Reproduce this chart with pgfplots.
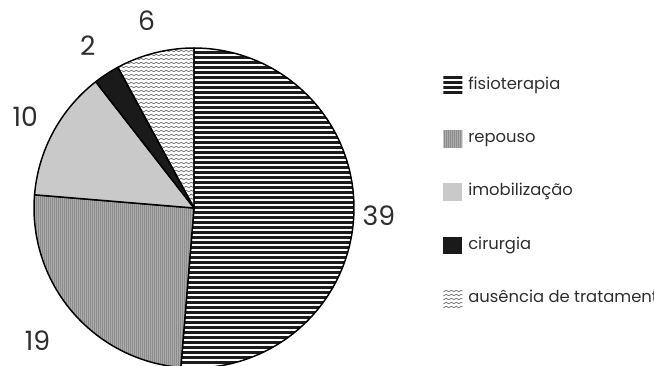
\documentclass[border=0pt]{standalone}
\usepackage{pgfplots}
\pgfplotsset{compat=1.18}
\usepackage{pgfplotstable}
\usepackage{fontspec}
\setmainfont{Poppins}
\usetikzlibrary{patterns}

\definecolor{inkgray}{HTML}{2E2E2E}
\definecolor{txtgray}{HTML}{2E2E2E}
\definecolor{linegray}{HTML}{1C1C1C}
\definecolor{repfill}{HTML}{ABABAB}
\definecolor{repline}{HTML}{7E7E7E}
\definecolor{imofill}{HTML}{C9C9C9}
\definecolor{cirfill}{HTML}{1A1A1A}
\definecolor{wavegray}{HTML}{7A7A7A}

% dense horizontal stripes
\pgfdeclarepatternformonly{fisiolines}{\pgfpoint{-0.1pt}{0pt}}{\pgfpoint{4.1pt}{3.75pt}}{\pgfpoint{4pt}{3.75pt}}{%
  \pgfsetlinewidth{1.8pt}%
  \pgfpathmoveto{\pgfpoint{-0.1pt}{1.875pt}}%
  \pgfpathlineto{\pgfpoint{4.1pt}{1.875pt}}%
  \pgfusepath{stroke}}
% fine vertical hatching on a grey ground
\pgfdeclarepatterninherentlycolored{repousotex}{\pgfpointorigin}{\pgfpoint{1.5pt}{1pt}}{\pgfpoint{1.5pt}{1pt}}{%
  \pgfsetfillcolor{repfill}%
  \pgfpathrectangle{\pgfpointorigin}{\pgfpoint{1.5pt}{1pt}}%
  \pgfusepath{fill}%
  \pgfsetstrokecolor{repline}%
  \pgfsetlinewidth{0.6pt}%
  \pgfpathmoveto{\pgfpoint{0.75pt}{0pt}}%
  \pgfpathlineto{\pgfpoint{0.75pt}{1pt}}%
  \pgfusepath{stroke}}
% small waves
\pgfdeclarepatternformonly{wavy}{\pgfpoint{-0.5pt}{-0.5pt}}{\pgfpoint{4.25pt}{3.5pt}}{\pgfpoint{3.75pt}{3pt}}{%
  \pgfsetlinewidth{0.55pt}%
  \pgfpathmoveto{\pgfpoint{0pt}{1.5pt}}%
  \pgfpathcurveto{\pgfpoint{0.6pt}{2.3pt}}{\pgfpoint{1.275pt}{2.3pt}}{\pgfpoint{1.875pt}{1.5pt}}%
  \pgfpathcurveto{\pgfpoint{2.475pt}{0.7pt}}{\pgfpoint{3.15pt}{0.7pt}}{\pgfpoint{3.75pt}{1.5pt}}%
  \pgfusepath{stroke}}

% number of cases per treatment; lr = radial distance of the value label
\pgfplotstableread{
value lr
39 185
19 205
10 192
2  194
6  193
}\piedata

\begin{document}
\begin{tikzpicture}
% slice values
\pgfplotstablegetelem{0}{value}\of\piedata \let\vA\pgfplotsretval
\pgfplotstablegetelem{1}{value}\of\piedata \let\vB\pgfplotsretval
\pgfplotstablegetelem{2}{value}\of\piedata \let\vC\pgfplotsretval
\pgfplotstablegetelem{3}{value}\of\piedata \let\vD\pgfplotsretval
\pgfplotstablegetelem{4}{value}\of\piedata \let\vE\pgfplotsretval
\pgfplotstablegetelem{0}{lr}\of\piedata \let\rA\pgfplotsretval
\pgfplotstablegetelem{1}{lr}\of\piedata \let\rB\pgfplotsretval
\pgfplotstablegetelem{2}{lr}\of\piedata \let\rC\pgfplotsretval
\pgfplotstablegetelem{3}{lr}\of\piedata \let\rD\pgfplotsretval
\pgfplotstablegetelem{4}{lr}\of\piedata \let\rE\pgfplotsretval
\pgfmathsetmacro\total{\vA+\vB+\vC+\vD+\vE}
% slice boundaries, clockwise from twelve o'clock
\pgfmathsetmacro\aO{90}
\pgfmathsetmacro\aA{\aO-360*\vA/\total}
\pgfmathsetmacro\aB{\aA-360*\vB/\total}
\pgfmathsetmacro\aC{\aB-360*\vC/\total}
\pgfmathsetmacro\aD{\aC-360*\vD/\total}
\pgfmathsetmacro\aE{\aD-360*\vE/\total}
% centre and radius of the pie
\def\cx{194}\def\cy{157}\def\R{160}
\begin{axis}[
  name=ax,
  scale only axis, width=490.5pt, height=273.75pt,
  xmin=0, xmax=654, ymin=0, ymax=365,
  hide axis, clip=true,
  every axis plot/.append style={draw=black, line width=1.1pt, line join=round},
  legend image code/.code={\fill[#1,draw=none] (0pt,-6.4pt) rectangle (14.25pt,6.4pt);},
  legend style={at={(axis cs:443,288.5)}, anchor=north west, draw=none, fill=none,
    inner sep=0pt, row sep=27.2pt, column sep=4.5pt,
    font=\fontsize{12.3}{14}\selectfont, text=txtgray,
    nodes={inner sep=0pt, text height=9pt, text depth=3pt}},
  legend cell align=left,
]
\addplot[pattern=fisiolines, pattern color=linegray, samples=90, domain=\aA:\aO]
  ({\cx+\R*cos(x)},{\cy+\R*sin(x)}) -- (axis cs:\cx,\cy) -- cycle;
\addlegendentry{fisioterapia}
\addplot[pattern=repousotex, samples=50, domain=\aB:\aA]
  ({\cx+\R*cos(x)},{\cy+\R*sin(x)}) -- (axis cs:\cx,\cy) -- cycle;
\addlegendentry{repouso}
\addplot[fill=imofill, samples=30, domain=\aC:\aB]
  ({\cx+\R*cos(x)},{\cy+\R*sin(x)}) -- (axis cs:\cx,\cy) -- cycle;
\addlegendentry{imobilização}
\addplot[fill=cirfill, samples=10, domain=\aD:\aC]
  ({\cx+\R*cos(x)},{\cy+\R*sin(x)}) -- (axis cs:\cx,\cy) -- cycle;
\addlegendentry{cirurgia}
\addplot[pattern=wavy, pattern color=wavegray, samples=20, domain=\aE:\aD]
  ({\cx+\R*cos(x)},{\cy+\R*sin(x)}) -- (axis cs:\cx,\cy) -- cycle;
\addlegendentry{ausência de tratamento}
% value labels at the middle of each slice
\pgfmathsetmacro\mA{(\aO+\aA)/2}
\pgfmathsetmacro\mB{(\aA+\aB)/2}
\pgfmathsetmacro\mC{(\aB+\aC)/2}
\pgfmathsetmacro\mD{(\aC+\aD)/2}
\pgfmathsetmacro\mE{(\aD+\aE)/2}
\begin{scope}[every node/.style={font=\fontsize{20}{22}\selectfont, text=inkgray, inner sep=0pt}]
\node at (axis cs:{\cx+\rA*cos(\mA)},{\cy+\rA*sin(\mA)}) {\vA};
\node at (axis cs:{\cx+\rB*cos(\mB)},{\cy+\rB*sin(\mB)}) {\vB};
\node at (axis cs:{\cx+\rC*cos(\mC)},{\cy+\rC*sin(\mC)}) {\vC};
\node at (axis cs:{\cx+\rD*cos(\mD)},{\cy+\rD*sin(\mD)}) {\vD};
\node at (axis cs:{\cx+\rE*cos(\mE)},{\cy+\rE*sin(\mE)}) {\vE};
\end{scope}
\end{axis}
\pgfresetboundingbox
\useasboundingbox (ax.south west) rectangle (ax.north east);
\end{tikzpicture}
\end{document}
